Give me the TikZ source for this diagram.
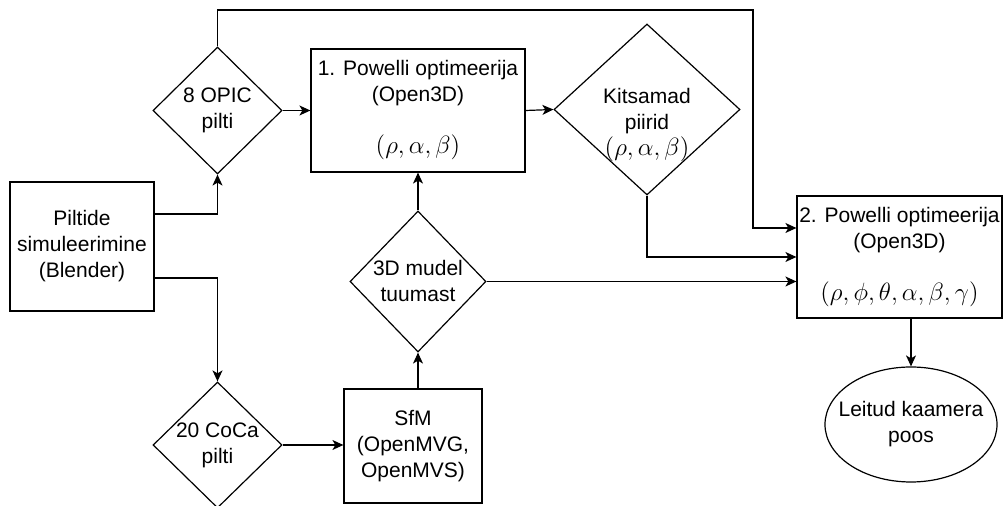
\RequirePackage{fix-cm}
\documentclass[tikz,border=0pt]{standalone}
\usepackage{fontspec}
\setmainfont{Liberation Sans}
\usetikzlibrary{arrows.meta, shapes.geometric}
\newcommand{\params}[1]{{\fontsize{12.5}{15}\selectfont$#1$}}

\begin{document}
\begin{tikzpicture}[
				x=0.5pt, y=-0.5pt,
				->,
				>={Stealth[length=5.5pt, width=5pt, inset=1.5pt]},
				semithick,
				font=\fontsize{10.5}{13}\selectfont,
				box/.style={draw, rectangle, fill=white, align=center, inner sep=1pt},
				choice/.style={draw, diamond, fill=white, inner sep=0pt},
				finish/.style={draw, ellipse, fill=white, inner sep=0pt}]

			\fill[white, -] (0,0) rectangle (1003,506);
			\useasboundingbox (0,0) rectangle (1003,506);

			\node[box, minimum width=72pt, minimum height=64.5pt] (simulation) at (82,246.5) {Piltide\\simuleerimine\\(Blender)};
			\node[choice, minimum width=64.5pt, minimum height=63.5pt, label={[align=center]center:8 OPIC\\pilti}] (opic) at (217.5,110.5) {};
			\node[choice, minimum width=64.5pt, minimum height=63pt, label={[align=center]center:20 CoCa\\pilti}] (coca) at (217.5,445) {};
			\node[box, minimum width=107pt, minimum height=61.5pt] (powell1) at (418,110.5) {1. Powelli optimeerija\\(Open3D)\\[13pt]\params{(\rho,\alpha,\beta)}};
			\node[choice, minimum width=93pt, minimum height=85.5pt, label={[align=center, yshift=-8pt]center:Kitsamad\\piirid\\\params{(\rho,\alpha,\beta)}}] (limits) at (647,109.5) {};
			\node[choice, minimum width=68pt, minimum height=70.5pt, label={[align=center]center:3D mudel\\tuumast}] (model) at (418,281.5) {};
			\node[box, minimum width=69pt, minimum height=57pt] (sfm) at (413,446) {SfM\\(OpenMVG,\\OpenMVS)};
			\node[box, minimum width=102.5pt, minimum height=61pt] (powell2) at (899.5,257) {2. Powelli optimeerija\\(Open3D)\\[13pt]\params{(\rho,\phi,\theta,\alpha,\beta,\gamma)}};
			\node[finish, minimum width=86pt, minimum height=57.5pt, label={[align=center]center:Leitud kaamera\\poos}] (pose) at (911,424.5) {};

			\coordinate (corner) at (753,10);

			\draw	([yshift=16.25pt]simulation.east) -| (opic.south);
			\draw	([yshift=-15.75pt]simulation.east) -| (coca.north);
			\draw	(opic.east) -- (powell1.west);
			\draw	(opic.north) |- (corner) |- ([yshift=14.5pt]powell2.west);
			\draw	(powell1.east) -- (limits.west);
			\draw	(limits.south) |- (powell2.west);
			\draw	(model.north) -- (powell1.south);
			\draw	(model.east) -- (model.east -| powell2.west);
			\draw	(sfm.north -| model.south) -- (model.south);
			\draw	(coca.east) -- (coca.east -| sfm.west);
			\draw	(powell2.south -| pose.north) -- (pose.north);

		\end{tikzpicture}
\end{document}
